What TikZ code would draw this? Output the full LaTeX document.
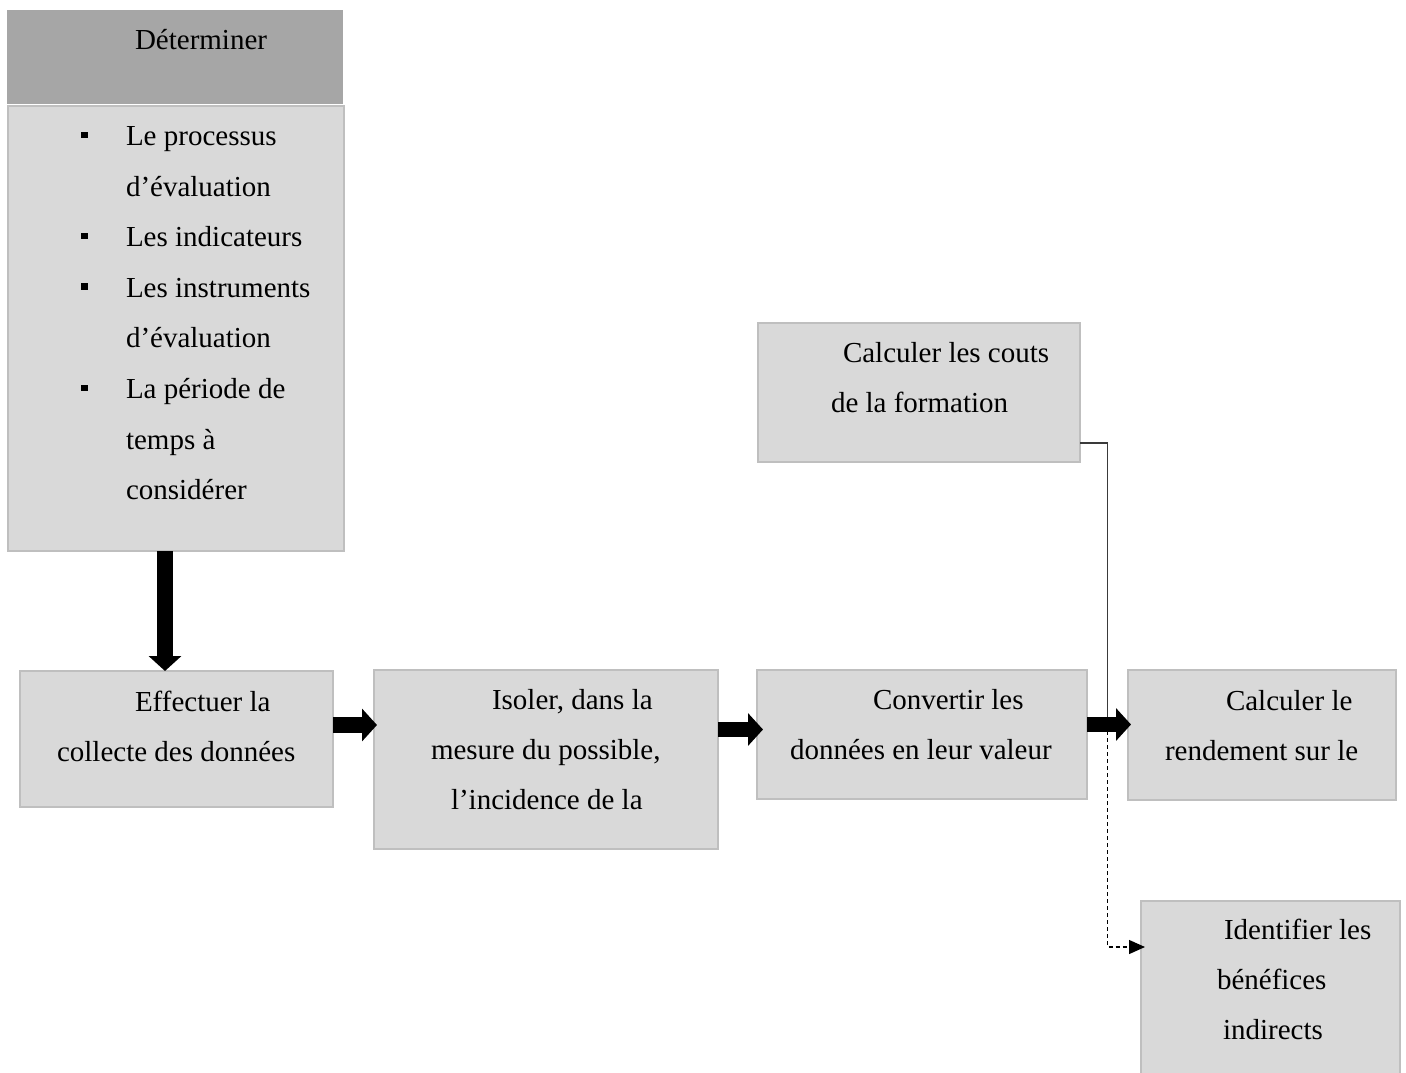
\documentclass[tikz,border=0pt]{standalone}
\usepackage{fontspec}
\setmainfont{Liberation Serif}
\usetikzlibrary{arrows.meta}
\definecolor{boxfill}{HTML}{D9D9D9}
\definecolor{boxline}{HTML}{BFBFBF}
\definecolor{headfill}{HTML}{A6A6A6}
\definecolor{wire}{HTML}{3A3A3A}

\tikzset{
  panel/.style={rectangle, fill=boxfill, draw=boxline, line width=2pt,
    inner sep=0pt, outer sep=0pt, anchor=north west},
  txt/.style={anchor=base west, inner sep=0pt, outer sep=0pt,
    font=\fontsize{29}{29}\selectfont},
  bulletsq/.style={rectangle, fill=black, inner sep=0pt, outer sep=0pt,
    minimum width=7pt, minimum height=6.5pt, anchor=north west},
  bigarrow/.style={line width=15.5pt, -{Triangle[length=15pt,width=32pt]}},
  thinwire/.style={draw=wire, line width=1.4pt},
  dashwire/.style={draw=black, line width=1.3pt, dash pattern=on 4pt off 3pt,
    -{Triangle[length=16pt,width=14pt]}}
}

\begin{document}
\begin{tikzpicture}[x=1pt,y=-1pt]
\useasboundingbox (0,0) rectangle (1406,1073);
\clip (0,0) rectangle (1406,1073);

% --- boxes ---
\node[panel, fill=headfill, draw=none, minimum width=336pt, minimum height=94pt] (head) at (7,10) {};
\node[panel, minimum width=336pt, minimum height=445pt] (list) at (8,106) {};
\node[panel, minimum width=313pt, minimum height=136pt] (collect) at (20,671) {};
\node[panel, minimum width=344pt, minimum height=179pt] (isoler) at (374,670) {};
\node[panel, minimum width=330pt, minimum height=129pt] (convert) at (757,670) {};
\node[panel, minimum width=268pt, minimum height=130pt] (rende) at (1128,670) {};
\node[panel, minimum width=322pt, minimum height=139pt] (couts) at (758,323) {};
\node[panel, minimum width=259pt, minimum height=200pt] (indir) at (1141,901) {};

% --- header text ---
\node[txt] (headtxt) at (135,50) {Déterminer};

% --- bulleted list ---
\node[txt] (l1) at (126,145.5) {Le processus};
\node[txt] (l2) at (126,196.1) {d’évaluation};
\node[txt] (l3) at (126,246.7) {Les indicateurs};
\node[txt] (l4) at (126,297.3) {Les instruments};
\node[txt] (l5) at (126,347.9) {d’évaluation};
\node[txt] (l6) at (126,398.5) {La période de};
\node[txt] (l7) at (126,449.1) {temps à};
\node[txt] (l8) at (126,499.7) {considérer};
\node[bulletsq] (b1) at (81,131.5) {};
\node[bulletsq] (b3) at (81,232.7) {};
\node[bulletsq] (b4) at (81,283.3) {};
\node[bulletsq] (b6) at (81,384.5) {};

% --- step texts ---
\node[txt] (c1) at (135,711) {Effectuer la};
\node[txt] (c2) at (57,761) {collecte des données};

\node[txt] (i1) at (492,709.5) {Isoler, dans la};
\node[txt] (i2) at (431,759.5) {mesure du possible,};
\node[txt] (i3) at (451,809) {l’incidence de la};

\node[txt] (v1) at (873,709.5) {Convertir les};
\node[txt] (v2) at (790,759.5) {données en leur valeur};

\node[txt] (r1) at (1226,710) {Calculer le};
\node[txt] (r2) at (1165,760) {rendement sur le};

\node[txt] (k1) at (843,362.5) {Calculer les couts};
\node[txt] (k2) at (831,412.5) {de la formation};

\node[txt] (n1) at (1224,939.5) {Identifier les};
\node[txt] (n2) at (1217,989.5) {bénéfices};
\node[txt] (n3) at (1223,1039.5) {indirects};

% --- helper coordinates for connector routes ---
\coordinate (ax) at (165,0);
\coordinate (ay1) at (0,725);
\coordinate (ay2) at (0,729.5);
\coordinate (ay3) at (0,724.5);
\coordinate (j1) at (1107.5,443);
\coordinate (j2) at (1107.5,724);
\coordinate (j3) at (1107.5,947);

% --- cost line and indirect benefits branch ---
\draw[thinwire] (couts.east |- j1) -- (j1) -- (j2);
\draw[dashwire] (j2) -- (j3) -- ([xshift=4pt]indir.west |- j3);

% --- main flow arrows ---
\draw[bigarrow] (list.south -| ax) -- (collect.north -| ax);
\draw[bigarrow, shorten >=-3pt] (collect.east |- ay1) -- (isoler.west |- ay1);
\draw[bigarrow, shorten >=-6pt] (isoler.east |- ay2) -- (convert.west |- ay2);
\draw[bigarrow, shorten >=-3pt] (convert.east |- ay3) -- (rende.west |- ay3);
\end{tikzpicture}
\end{document}
